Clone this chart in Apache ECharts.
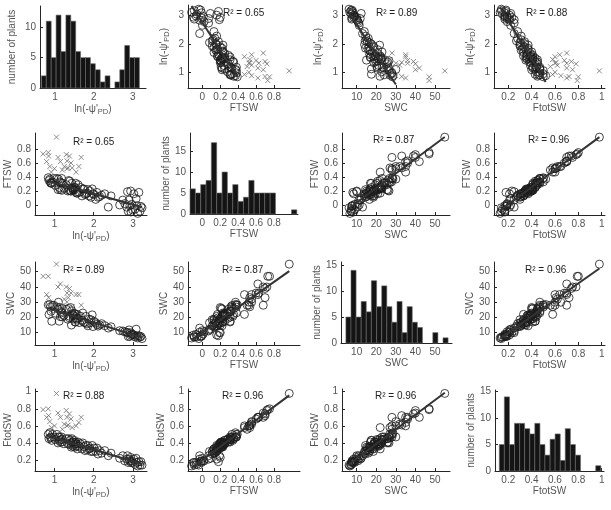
<!DOCTYPE html>
<html><head><meta charset="utf-8">
<script src="https://cdn.jsdelivr.net/npm/echarts@6/dist/echarts.min.js"></script>
<style>html,body{margin:0;padding:0;background:#fff}#c{width:611px;height:510px}</style>
</head><body><div id="c"></div>
<script>
// ---- data: plants shown as circles (regression points) ----
const circLnPsi = [0.84,0.86,0.88,0.90,0.91,0.93,0.95,0.98,1.02,1.06,1.09,1.10,1.12,1.13,1.15,1.16,1.18,1.19,1.20,1.24,1.30,1.34,1.36,1.38,1.39,1.41,1.43,1.44,1.455,1.47,1.48,1.49,1.50,1.52,1.53,1.54,1.56,1.57,1.58,1.60,1.63,1.66,1.70,1.72,1.75,1.78,1.80,1.83,1.85,1.88,1.90,1.93,1.96,1.98,2.01,2.05,2.08,2.11,2.15,2.20,2.28,2.37,2.44,2.66,2.74,2.79,2.84,2.86,2.88,2.90,2.92,2.94,2.95,2.97,2.99,3.02,3.05,3.08,3.10,3.12,3.15,3.18,3.20,3.23];
const circFTSW = [0.39,0.35,0.37,0.32,0.31,0.31,0.33,0.38,0.28,0.38,0.22,0.37,0.25,0.33,0.22,0.32,0.38,0.21,0.31,0.24,0.29,0.20,0.35,0.21,0.34,0.20,0.20,0.31,0.24,0.22,0.21,0.23,0.25,0.22,0.25,0.31,0.17,0.19,0.17,0.29,0.18,0.25,0.13,0.23,0.23,0.15,0.16,0.17,0.22,0.13,0.20,0.11,0.23,0.16,0.15,0.08,0.18,0.11,0.12,0.14,0.16,-0.03,0.13,0.00,0.07,0.02,-0.03,0.19,-0.09,0.07,-0.01,0.20,-0.10,0.01,-0.07,0.16,-0.06,0.09,-0.01,-0.12,0.18,-0.09,-0.02,-0.04];
const circSWC = [28.3,21.9,28.5,27.0,24.0,17.5,27.8,28.0,22.8,26.8,25.5,30.0,17.5,26.5,20.5,23.8,23.0,26.0,20.3,21.3,25.4,18.8,25.9,19.7,20.7,26.5,15.0,24.4,22.5,21.1,19.0,21.2,22.7,17.0,22.3,17.0,19.6,18.8,22.0,19.5,16.6,20.8,18.0,22.9,16.8,16.6,20.7,15.7,14.5,18.8,16.4,18.5,21.7,14.0,17.4,16.5,15.4,14.3,15.1,15.9,14.6,13.0,13.9,11.3,11.1,10.6,10.3,10.0,7.4,11.8,7.6,10.0,8.4,9.1,8.9,8.5,7.2,12.3,7.9,6.5,8.0,7.1,7.5,6.1];
const circFtotSW = [0.50,0.45,0.52,0.46,0.47,0.43,0.50,0.47,0.44,0.50,0.40,0.47,0.43,0.47,0.41,0.44,0.47,0.41,0.44,0.39,0.45,0.39,0.45,0.38,0.43,0.40,0.35,0.45,0.41,0.36,0.41,0.38,0.43,0.35,0.39,0.41,0.36,0.39,0.33,0.41,0.36,0.39,0.33,0.40,0.355,0.31,0.37,0.32,0.37,0.33,0.34,0.30,0.37,0.30,0.34,0.30,0.34,0.27,0.31,0.28,0.31,0.25,0.28,0.22,0.25,0.19,0.21,0.25,0.17,0.21,0.19,0.23,0.17,0.19,0.17,0.21,0.15,0.22,0.17,0.13,0.18,0.14,0.18,0.14];
// ---- data: well-watered plants shown as crosses in the ln(-psi) panels ----
const crossLnPsi = [0.71,0.80,0.84,0.85,0.88,0.92,1.05,1.00,1.09,1.15,1.20,1.25,1.30,1.32,1.35,1.38,1.42,1.45,1.55,1.62,1.68,1.32];
const crossFTSW = [0.73,0.62,0.75,0.70,0.55,0.47,0.97,0.52,0.68,0.62,0.50,0.55,0.72,0.63,0.53,0.70,0.60,0.53,0.47,0.55,0.68,0.52];
const crossSWC = [47,35,47,33,30,22,55,28,40,42,28,32,40,36,33,39,36,27,35,35,28,30];
const crossFtotSW = [0.79,0.70,0.80,0.72,0.65,0.58,0.98,0.60,0.75,0.70,0.56,0.62,0.78,0.70,0.61,0.74,0.68,0.58,0.60,0.64,0.70,0.60];
// ---- histograms (bin edges and counts) ----
const lnPsiEdges = [0.650,0.776,0.902,1.028,1.154,1.280,1.406,1.532,1.658,1.784,1.910,2.036,2.162,2.288,2.414,2.540,2.666,2.792,2.918,3.044,3.170];
const lnPsiCounts = [2,11,5,12,6,12,11,6,5,5,4,3,1,2,0,1,3,7,5,5];
const ftswEdges = [-0.137,-0.077,-0.018,0.042,0.101,0.161,0.221,0.280,0.340,0.399,0.459,0.519,0.578,0.638,0.697,0.757,0.817,0.876,0.936,0.995,1.055];
const ftswCounts = [6,5,7,8,17,5,10,5,7,3,4,8,5,5,5,5,0,0,0,1];
const swcEdges = [4.5,7.1,9.7,12.3,14.9,17.5,20.2,22.8,25.4,28.0,30.6,33.2,35.8,38.4,41.0,43.6,46.3,48.9,51.5,54.1,56.7];
const swcCounts = [5,14,5,8,6,12,7,11,7,4,8,2,7,4,3,0,0,2,0,1];
const ftotEdges = [0.123,0.166,0.210,0.253,0.297,0.340,0.384,0.427,0.471,0.514,0.558,0.601,0.645,0.688,0.732,0.775,0.819,0.862,0.906,0.949,0.993];
const ftotCounts = [5,14,5,9,9,8,7,9,5,3,6,7,2,8,5,3,0,0,0,1];
// ---- tick labels ----
const lnPsiTicks = [1,2,3];
const ftswTicks = [0,0.2,0.4,0.6,0.8];
const swcTicks = [10,20,30,40,50];
const ftotTicks = [0.2,0.4,0.6,0.8,1];
const histTicksRow1 = [0,5,10];
const histTicks = [0,5,10,15];
// ---- R^2 labels (row, col, text) ----
const r2Rows = [0,0,0,1,1,1,2,2,2,3,3,3];
const r2Cols = [1,2,3,0,2,3,0,1,3,0,1,2];
const r2Vals = ['0.65','0.89','0.88','0.65','0.87','0.96','0.89','0.87','0.96','0.88','0.96','0.96'];

// ---- layout ----
const FONT = 'Liberation Sans, Arial, sans-serif';
const TXT = '#555';
const AX = '#262626';
const colX = [[35,147],[188,300],[342,450],[494,605]];
const histColX = [[40,146],[190,298],[341,452],[495,604]];
const rowY = [[5,88],[133,215],[262,345],[389,471]];
const histRowY = [[6,88],[133,214],[262,343],[390,471]];
const xRange = [[0.503,3.357],[-0.16,1.09],[2.49,57.66],[0.0775,1.028]];
const yRange = [[0.445,3.378],[-0.143,1.029],[1.9,56.4],[0.071,1.032]];
const histXRange = [[0.614,3.34],[-0.137,1.068],[2.0,58.7],[0.086,1.02]];
const histYMax = [13.5,19.3,15.6,15.3];
const histNameGap = [23,19,19,19];
const r2Pos = {'0,1':[223,15],'0,2':[376,15],'0,3':[526,15],'1,0':[73,144],'1,2':[373,142],'1,3':[528,142],
  '2,0':[63,272],'2,1':[222,272],'2,3':[525,272],'3,0':[63,398],'3,1':[222,398],'3,2':[375,398]};

const circ = [circLnPsi, circFTSW, circSWC, circFtotSW];
const cross = [crossLnPsi, crossFTSW, crossSWC, crossFtotSW];
const ticks = [lnPsiTicks, ftswTicks, swcTicks, ftotTicks];
const edges = [lnPsiEdges, ftswEdges, swcEdges, ftotEdges];
const counts = [lnPsiCounts, ftswCounts, swcCounts, ftotCounts];
const names = ["ln(-ψ'{sub|PD})", 'FTSW', 'SWC', 'FtotSW'];
const rich = {sub:{fontSize:7.5, fontFamily:FONT, color:TXT, padding:[5,0,0,0]}};
const nameStyle = {fontSize:10, fontFamily:FONT, color:TXT, rich};

function fitLine(xs, ys){
  const n = xs.length; let mx=0,my=0; for(let i=0;i<n;i++){mx+=xs[i];my+=ys[i];} mx/=n; my/=n;
  let sxx=0,sxy=0; for(let i=0;i<n;i++){sxx+=(xs[i]-mx)*(xs[i]-mx); sxy+=(xs[i]-mx)*(ys[i]-my);}
  const b=sxy/sxx, a=my-b*mx; const x0=Math.min(...xs), x1=Math.max(...xs);
  return [[x0,a+b*x0],[x1,a+b*x1]];
}
function mkAxis(dim, gi, min, max, tk, name, gap){
  const o = {gridIndex:gi, type:'value', min, max,
    axisLine:{show:true, onZero:false, lineStyle:{color:AX, width:1}},
    axisTick:{show:true, inside:true, length:3, customValues:tk, lineStyle:{color:AX}},
    axisLabel:{show:true, customValues:tk, margin:4, fontSize:10, fontFamily:FONT, color:TXT, formatter:v=>String(+v.toFixed(3))},
    splitLine:{show:false}, name, nameLocation:'middle', nameGap:gap, nameTextStyle:nameStyle};
  if(dim==='y'){ o.nameRotate = 90; o.position='left'; } else { o.position='bottom'; }
  return o;
}

const grids=[], xAxes=[], yAxes=[], series=[], graphics=[];
for(let r=0;r<4;r++){
  for(let c=0;c<4;c++){
    const gi = r*4+c;
    if(r===c){
      const [x0,x1]=histColX[c], [y0,y1]=histRowY[r];
      grids.push({left:x0, top:y0, width:x1-x0, height:y1-y0});
      xAxes.push(mkAxis('x', gi, histXRange[c][0], histXRange[c][1], ticks[c], names[c], 15));
      yAxes.push(mkAxis('y', gi, 0, histYMax[r], r===0?histTicksRow1:histTicks, 'number of plants', histNameGap[r]));
      const e=edges[c], k=counts[c], data=[];
      for(let i=0;i<k.length;i++) if(k[i]>0) data.push([e[i],e[i+1],k[i]]);
      series.push({type:'custom', xAxisIndex:gi, yAxisIndex:gi, data, encode:{x:[0,1], y:2}, silent:true,
        renderItem:(p,api)=>{
          const a=api.coord([api.value(0),0]), b=api.coord([api.value(1),api.value(2)]);
          return {type:'rect', shape:{x:a[0], y:b[1], width:b[0]-a[0], height:a[1]-b[1]},
            style:{fill:'#141414', stroke:'#6a6a6a', lineWidth:0.6}};
        }});
    } else {
      const [x0,x1]=colX[c], [y0,y1]=rowY[r];
      grids.push({left:x0, top:y0, width:x1-x0, height:y1-y0});
      xAxes.push(mkAxis('x', gi, xRange[c][0], xRange[c][1], ticks[c], names[c], 15));
      yAxes.push(mkAxis('y', gi, yRange[r][0], yRange[r][1], ticks[r], names[r], 17));
      const usesPsi = (r===0||c===0);
      let xs = circ[c].slice(), ys = circ[r].slice();
      if(!usesPsi){ xs = xs.concat(cross[c]); ys = ys.concat(cross[r]); }
      series.push({type:'scatter', xAxisIndex:gi, yAxisIndex:gi, silent:true,
        data: xs.map((v,i)=>[v,ys[i]]), symbol:'circle', symbolSize:8,
        itemStyle:{color:'rgba(0,0,0,0)', borderColor:'#1c1c1c', borderWidth:1}});
      if(usesPsi){
        series.push({type:'scatter', xAxisIndex:gi, yAxisIndex:gi, silent:true,
          data: cross[c].map((v,i)=>[v,cross[r][i]]), symbol:'path://M0,0L10,10M10,0L0,10', symbolSize:5,
          itemStyle:{color:'rgba(0,0,0,0)', borderColor:'#707070', borderWidth:1}});
      }
      series.push({type:'line', xAxisIndex:gi, yAxisIndex:gi, silent:true, data:fitLine(xs,ys),
        symbol:'none', clip:true, lineStyle:{color:'#333', width:2}});
    }
  }
}
for(let i=0;i<r2Vals.length;i++){
  const p = r2Pos[r2Rows[i]+','+r2Cols[i]];
  graphics.push({type:'text', left:p[0], top:p[1]-7, silent:true,
    style:{text:'R² = '+r2Vals[i], fontSize:10, fontFamily:FONT, fill:'#222'}});
}
const chart = echarts.init(document.getElementById('c'), null, {renderer:'canvas'});
chart.setOption({animation:false, backgroundColor:'#fff', grid:grids, xAxis:xAxes, yAxis:yAxes, series, graphic:graphics});
</script></body></html>
